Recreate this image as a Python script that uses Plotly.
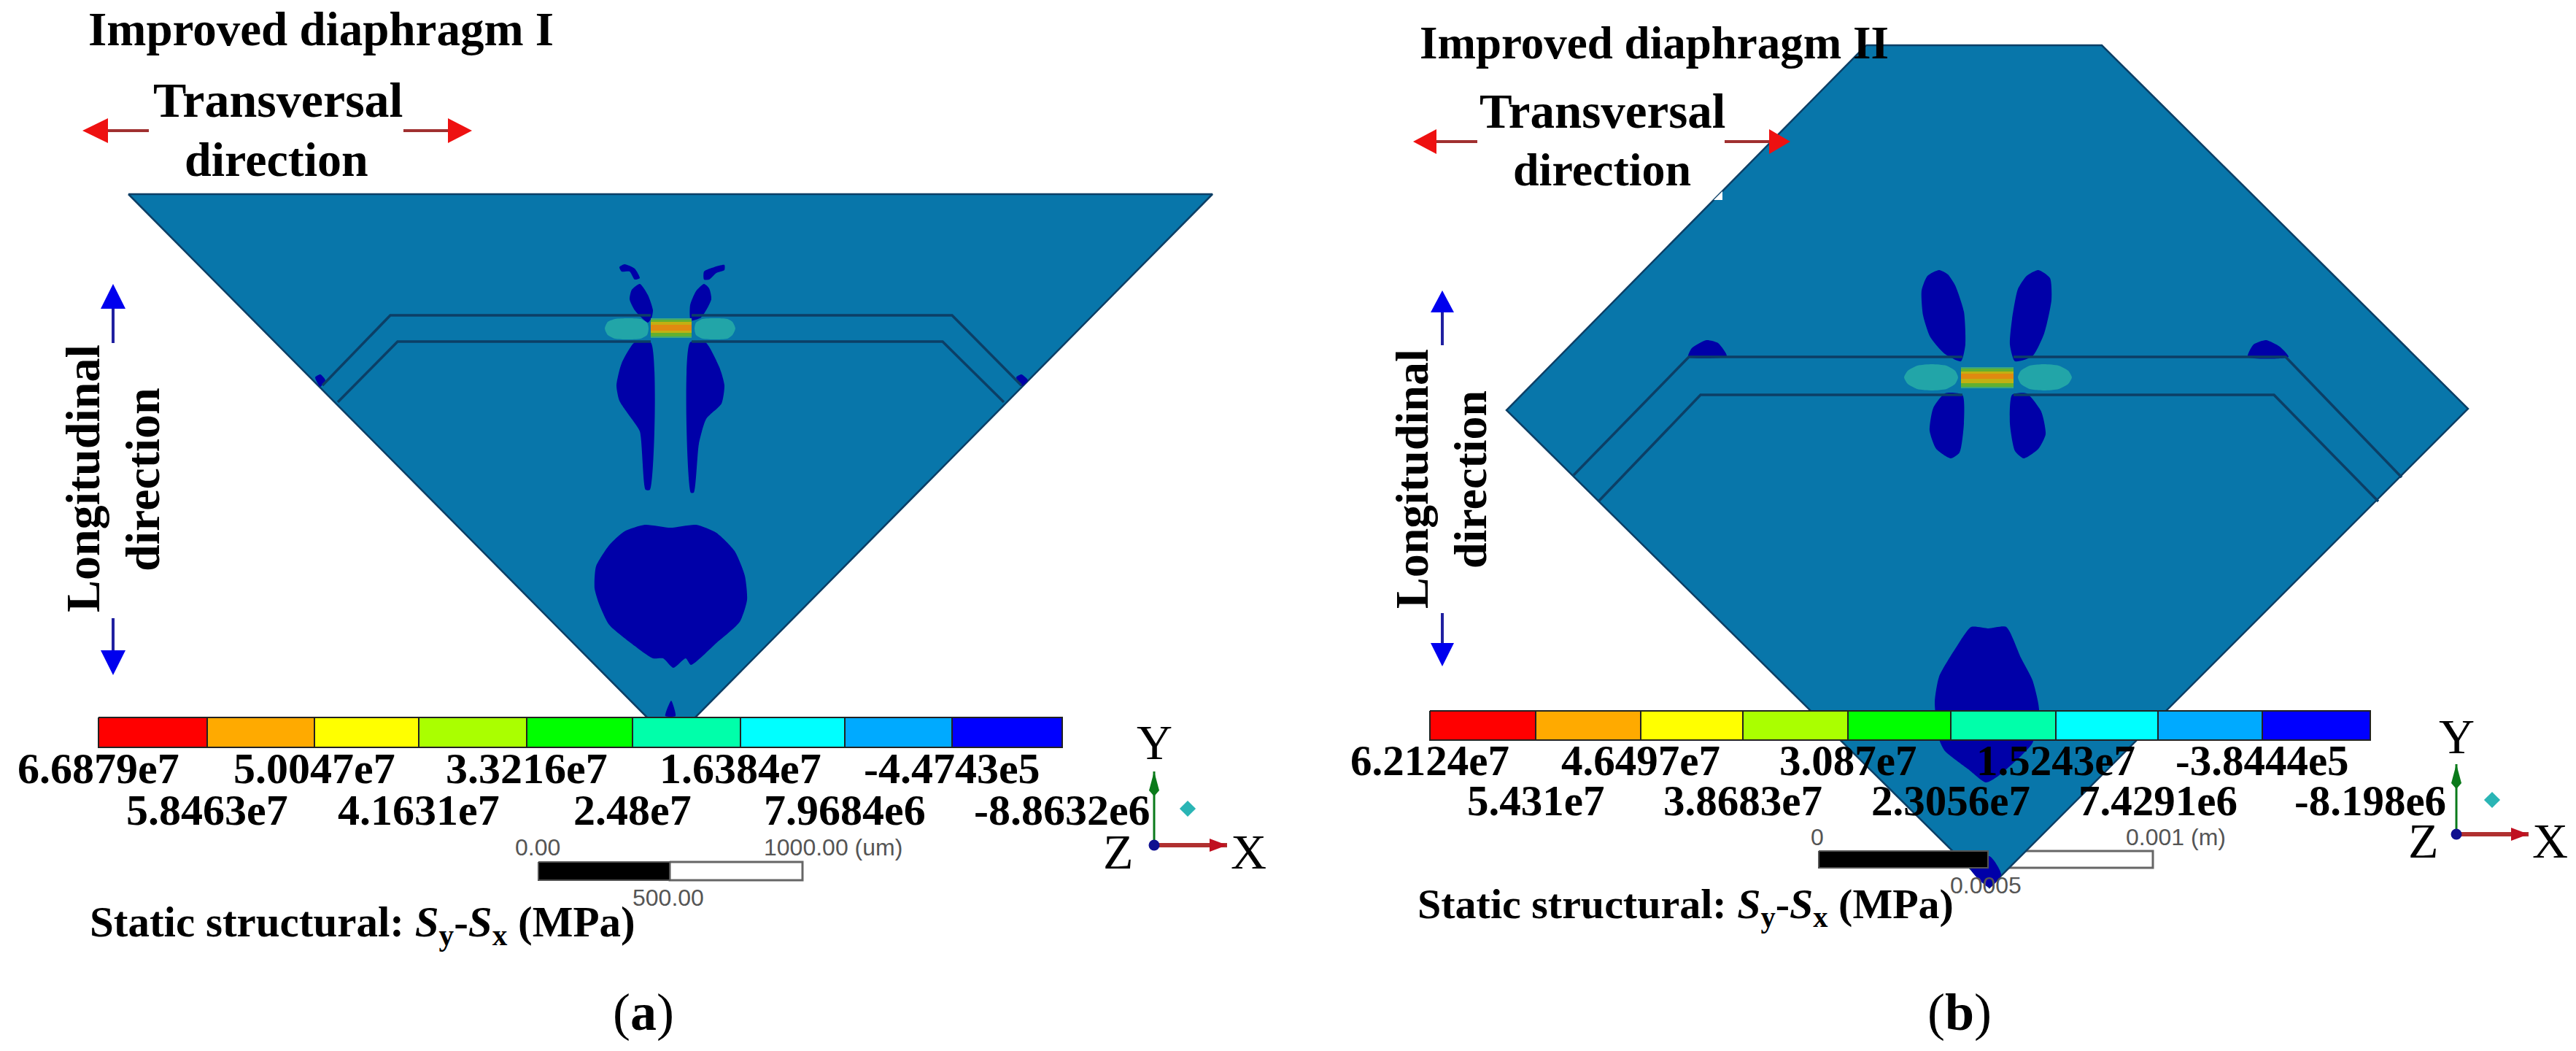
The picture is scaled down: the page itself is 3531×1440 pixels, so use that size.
import plotly.graph_objects as go

W, H = 3531, 1440
PLATE = '#0876aa'
EDGE = '#0c3f66'
DEEP = '#0000a8'
OVAL = '#22a5a8'
SERIF = 'Liberation Serif'

BAND_COLORS = ['#ff0000', '#ffaa00', '#ffff00', '#aaff00', '#00ff00',
               '#00ffaa', '#00ffff', '#00aaff', '#0000ff']

# ---- panel (a) ----
a_plate = [(176, 266), (1662, 266), (951, 985), (889, 985)]
a_strip_left = [(442, 528), (535, 432), (892, 432)]
a_strip_left2 = [(463, 551), (545, 468), (892, 468)]
a_strip_right = [(948, 432), (1305, 432), (1400, 528)]
a_strip_right2 = [(948, 468), (1292, 468), (1376, 551)]
a_deep = [
    [(849, 366), (856, 362), (870, 368), (877, 381), (870, 383), (863, 372), (852, 372)],
    [(965, 383), (965, 372), (979, 366), (993, 363), (993, 370), (982, 374), (972, 383)],
    [(877, 389), (866, 397), (863, 410), (870, 425), (888, 442), (893, 436), (895, 425), (888, 404)],
    [(965, 389), (954, 399), (946, 418), (947, 439), (961, 435), (975, 410), (972, 395)],
    [(870, 469), (892, 469), (891, 671), (885, 671), (877, 591), (866, 574), (849, 549), (845, 528), (852, 498)],
    [(946, 469), (967, 469), (986, 503), (993, 528), (989, 553), (968, 574), (958, 608), (951, 675), (947, 675)],
    [(884, 719), (919, 723), (954, 719), (982, 730), (1007, 755), (1021, 789), (1024, 822), (1014, 852),
     (982, 881), (947, 911), (940, 902), (923, 915), (909, 902), (895, 902), (870, 885), (835, 856),
     (821, 827), (815, 806), (817, 776), (835, 747), (856, 728)],
    [(920, 960), (926, 981), (912, 981)],
    [(432, 517), (439, 513), (446, 521), (439, 530)],
    [(1393, 517), (1400, 513), (1409, 521), (1400, 529)],
]
a_ovals = [
    [(829, 450), (833, 441), (843, 437), (860, 436), (878, 437), (887, 442),
     (889, 450), (887, 459), (878, 464), (860, 465), (843, 464), (833, 459)],
    [(952, 450), (954, 442), (963, 437), (980, 436), (997, 437), (1004, 441),
     (1008, 450), (1004, 459), (997, 464), (980, 465), (963, 464), (954, 459)],
]
a_core_x = (892, 948)
a_core_y = [(436, 463), (438, 461), (441, 456), (445, 453)]
a_edges = [135, 284, 431, 574, 722, 867, 1015, 1158, 1305, 1456]
a_bar_y = (983, 1024)
a_row1 = ['6.6879e7', '5.0047e7', '3.3216e7', '1.6384e7', '-4.4743e5']
a_row2 = ['5.8463e7', '4.1631e7', '2.48e7', '7.9684e6', '-8.8632e6']
a_scale_x = (738, 918, 1100)
a_scale_y = (1181, 1206)

# ---- panel (b) ----
b_plate = [(2558, 62), (2881, 62), (3383, 560), (2727, 1216), (2065, 562)]
b_notch = [(2361, 262), (2361, 274), (2349, 274)]
b_strip_left = [(2157, 651), (2315, 489), (2690, 489)]
b_strip_left2 = [(2192, 686), (2331, 541), (2690, 541)]
b_strip_right = [(2760, 489), (3133, 489), (3292, 654)]
b_strip_right2 = [(2760, 541), (3117, 541), (3260, 687)]
b_deep = [
    [(2658, 370), (2642, 378), (2634, 398), (2636, 432), (2646, 462), (2666, 485), (2688, 495),
     (2694, 472), (2692, 427), (2680, 391), (2670, 376)],
    [(2794, 370), (2778, 378), (2766, 396), (2758, 437), (2755, 472), (2762, 495), (2786, 488),
     (2802, 457), (2812, 411), (2810, 381)],
    [(2690, 541), (2692, 580), (2686, 620), (2674, 628), (2654, 615), (2645, 590), (2650, 559), (2666, 539)],
    [(2758, 541), (2755, 580), (2762, 618), (2774, 628), (2794, 615), (2804, 595), (2798, 564), (2778, 539)],
    [(2314, 489), (2319, 477), (2339, 466), (2355, 470), (2367, 488)],
    [(3081, 489), (3089, 472), (3106, 466), (3125, 475), (3137, 489)],
    [(2702, 859), (2726, 861), (2750, 859), (2770, 901), (2786, 932), (2795, 972), (2786, 1018),
     (2738, 1064), (2722, 1072), (2698, 1054), (2666, 1029), (2658, 1013), (2652, 962), (2658, 927), (2682, 886)],
    [(2701, 1190), (2727, 1216), (2743, 1198), (2727, 1173)],
]
b_ovals = [
    [(2610, 517), (2615, 508), (2628, 501), (2648, 499), (2668, 501), (2680, 508),
     (2684, 517), (2680, 526), (2668, 533), (2648, 535), (2628, 533), (2615, 526)],
    [(2766, 517), (2770, 508), (2782, 501), (2802, 499), (2822, 501), (2835, 508),
     (2840, 517), (2835, 526), (2822, 533), (2802, 535), (2782, 533), (2770, 526)],
]
b_core_x = (2688, 2760)
b_core_y = [(503, 532), (505, 530), (509, 525), (512, 519)]
b_edges = [1960, 2105, 2249, 2389, 2533, 2674, 2818, 2958, 3101, 3249]
b_bar_y = (974, 1014)
b_row1 = ['6.2124e7', '4.6497e7', '3.087e7', '1.5243e7', '-3.8444e5']
b_row2 = ['5.431e7', '3.8683e7', '2.3056e7', '7.4291e6', '-8.198e6']
b_scale_x = (2493, 2725, 2951)
b_scale_y = (1166, 1189)

# arrows: tail, head base, tip, head half width
red_arrows = [((204, 179), (148, 179), (113, 179), 17), ((553, 179), (614, 179), (647, 179), 17),
              ((2025, 194), (1969, 194), (1937, 194), 17), ((2364, 194), (2425, 194), (2454, 194), 17)]
blue_arrows = [((155, 470), (155, 423), (155, 389), 17), ((155, 847), (155, 891), (155, 925), 17),
               ((1977, 473), (1977, 428), (1977, 398), 16), ((1977, 840), (1977, 881), (1977, 913), 16)]
# triad: origin, green tip, red tip, cyan dot
triads = [((1582, 1158), (1582, 1057), (1682, 1158), (1628, 1108)),
          ((3367, 1143), (3367, 1047), (3466, 1143), (3416, 1096))]

fig = go.Figure()


def poly(points, fill, line=None, width=0, smooth=False):
    xs = [p[0] for p in points] + [points[0][0]]
    ys = [p[1] for p in points] + [points[0][1]]
    style = dict(color=line or fill, width=width)
    if smooth:
        style.update(shape='spline', smoothing=0.6)
    fig.add_trace(go.Scatter(x=xs, y=ys, mode='lines', fill='toself', fillcolor=fill,
                             line=style, hoverinfo='skip'))


def path(points, color, width):
    fig.add_trace(go.Scatter(x=[p[0] for p in points], y=[p[1] for p in points], mode='lines',
                             line=dict(color=color, width=width), hoverinfo='skip'))


def rect(x0, x1, y0, y1, fill, line=None, width=0):
    poly([(x0, y0), (x1, y0), (x1, y1), (x0, y1)], fill, line, width)


def arrow(tail, base, tip, half, color, shaft, width):
    path([tail, base], shaft, width)
    if tail[1] == tip[1]:
        poly([tip, (base[0], base[1] - half), (base[0], base[1] + half)], color)
    else:
        poly([tip, (base[0] - half, base[1]), (base[0] + half, base[1])], color)


def panel(plate, deep, ovals, strips, core_x, core_y, edges, bar_y):
    poly(plate, PLATE, EDGE, 2.5)
    for shape in deep:
        poly(shape, DEEP, smooth=True)
    for shape in ovals:
        poly(shape, OVAL, smooth=True)
    for line in strips:
        path(line, EDGE, 3.5)
    for (y0, y1), col in zip(core_y, ['#3aa580', '#62b030', '#c2b012', '#e08a10']):
        rect(core_x[0], core_x[1], y0, y1, col)
    for i, col in enumerate(BAND_COLORS):
        rect(edges[i], edges[i + 1], bar_y[0], bar_y[1], col, '#222222', 2)


# white end of the scale bars sits under the plate in (b), so draw it first
rect(a_scale_x[1], a_scale_x[2], a_scale_y[0], a_scale_y[1], '#ffffff', '#666666', 3)
rect(b_scale_x[1], b_scale_x[2], b_scale_y[0], b_scale_y[1], '#ffffff', '#666666', 3)

panel(a_plate, a_deep, a_ovals, [a_strip_left, a_strip_left2, a_strip_right, a_strip_right2],
      a_core_x, a_core_y, a_edges, a_bar_y)
panel(b_plate, b_deep, b_ovals, [b_strip_left, b_strip_left2, b_strip_right, b_strip_right2],
      b_core_x, b_core_y, b_edges, b_bar_y)
poly(b_notch, '#ffffff')

rect(a_scale_x[0], a_scale_x[1], a_scale_y[0], a_scale_y[1], '#000000', '#555555', 2)
rect(b_scale_x[0], b_scale_x[1], b_scale_y[0], b_scale_y[1], '#000000', '#555555', 2)

for tail, base, tip, half in red_arrows:
    arrow(tail, base, tip, half, '#ee1111', '#a03030', 4)
for tail, base, tip, half in blue_arrows:
    arrow(tail, base, tip, half, '#0000ee', '#2020a0', 4)

for origin, green, red, cyan in triads:
    path([origin, green], '#0a7a1a', 3)
    poly([green, (green[0] - 7, green[1] + 26), (green[0], green[1] + 34), (green[0] + 7, green[1] + 26)], '#0a7a1a')
    path([origin, red], '#b03030', 6)
    poly([red, (red[0] - 24, red[1] - 9), (red[0] - 24, red[1] + 9)], '#c01020')
    fig.add_trace(go.Scatter(x=[origin[0]], y=[origin[1]], mode='markers',
                             marker=dict(color='#101090', size=15), hoverinfo='skip'))
    fig.add_trace(go.Scatter(x=[cyan[0]], y=[cyan[1]], mode='markers',
                             marker=dict(color='#2ab5b5', size=17, symbol='diamond'), hoverinfo='skip'))


def label(x, y, text, size, color='#000000', family=SERIF, angle=0):
    fig.add_annotation(x=x, y=y, xref='x', yref='y', text=text, showarrow=False, textangle=angle,
                       font=dict(family=family, size=size, color=color),
                       xanchor='center', yanchor='middle')


# band labels sit on the band edges, alternating between two rows
for i, txt in enumerate(a_row1):
    label(a_edges[2 * i], 1053, f'<b>{txt}</b>', 60)
for i, txt in enumerate(a_row2):
    label(a_edges[2 * i + 1], 1110, f'<b>{txt}</b>', 60)
for i, txt in enumerate(b_row1):
    label(b_edges[2 * i], 1042, f'<b>{txt}</b>', 59)
for i, txt in enumerate(b_row2):
    label(b_edges[2 * i + 1], 1097, f'<b>{txt}</b>', 59)

label(440, 40, '<b>Improved diaphragm I</b>', 65)
label(381, 137, '<b>Transversal</b>', 68)
label(379, 218, '<b>direction</b>', 66)
label(113, 656, '<b>Longitudinal</b>', 66, angle=-90)
label(195, 657, '<b>direction</b>', 66, angle=-90)
label(497, 1267, '<b>Static structural: <i>S</i><sub>y</sub>-<i>S</i><sub>x</sub> (MPa)</b>', 59)
label(882, 1387, '(<b>a</b>)', 72)
label(737, 1161, '0.00', 32, '#555555', 'Liberation Sans')
label(1142, 1161, '1000.00 (um)', 32, '#555555', 'Liberation Sans')
label(916, 1230, '500.00', 32, '#555555', 'Liberation Sans')
label(1582, 1017, 'Y', 68)
label(1533, 1167, 'Z', 68)
label(1711, 1167, 'X', 68)

label(2267, 59, '<b>Improved diaphragm II</b>', 63)
label(2196, 152, '<b>Transversal</b>', 67)
label(2196, 232, '<b>direction</b>', 64)
label(1935, 656, '<b>Longitudinal</b>', 64, angle=-90)
label(2015, 657, '<b>direction</b>', 64, angle=-90)
label(2310, 1242, '<b>Static structural: <i>S</i><sub>y</sub>-<i>S</i><sub>x</sub> (MPa)</b>', 58)
label(2686, 1387, '(<b>b</b>)', 72)
label(2491, 1147, '0', 32, '#555555', 'Liberation Sans')
label(2982, 1147, '0.001 (m)', 32, '#555555', 'Liberation Sans')
label(2722, 1213, '0.0005', 32, '#555555', 'Liberation Sans')
label(3367, 1009, 'Y', 68)
label(3322, 1152, 'Z', 68)
label(3495, 1152, 'X', 68)

fig.update_xaxes(range=[0, W], visible=False)
fig.update_yaxes(range=[H, 0], visible=False)
fig.update_layout(width=W, height=H, margin=dict(l=0, r=0, t=0, b=0), showlegend=False,
                  paper_bgcolor='white', plot_bgcolor='white')

fig.write_html("out.html", config={'displayModeBar': False},
               post_script="document.body.style.margin='0';")
